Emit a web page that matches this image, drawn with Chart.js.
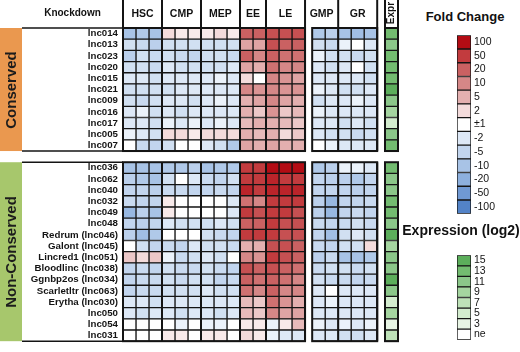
<!DOCTYPE html>
<html><head><meta charset="utf-8">
<script src="https://cdn.jsdelivr.net/npm/chart.js@4"></script>
<style>
html,body{margin:0;padding:0;background:#fff;}
#wrap{position:relative;width:520px;height:352px;overflow:hidden;font-family:"Liberation Sans",Arial,Helvetica,sans-serif;font-weight:bold;color:#111;}
canvas{position:absolute;}
.t{position:absolute;white-space:nowrap;font-weight:bold;line-height:1;}
</style></head><body>
<div id="wrap">
<canvas id="main" width="400" height="352" style="left:0;top:0"></canvas>
<canvas id="fcLeg" width="62" height="197" style="left:456px;top:26px"></canvas>
<canvas id="exLeg" width="62" height="103" style="left:456px;top:246px"></canvas>
<div class="t" style="left:405px;width:120px;text-align:center;top:10px;font-size:13px;">Fold Change</div>
<div class="t" style="left:400px;width:122px;text-align:center;top:223px;font-size:14px;">Expression (log2)</div>
</div>
<script>
// ---------- data ----------
const conservedRows = ['lnc014','lnc013','lnc023','lnc020','lnc015','lnc021','lnc009','lnc016','lnc017','lnc005','lnc007'];
const nonConservedRows = ['lnc036','lnc062','lnc040','lnc032','lnc049','lnc048','Redrum (lnc046)','Galont (lnc045)','Lincred1 (lnc051)','Bloodlinc (lnc038)','Ggnbp2os (lnc034)','Scarletltr (lnc063)','Erytha (lnc030)','lnc050','lnc054','lnc031'];
const groups = ['HSC','CMP','MEP','EE','LE','GMP','GR'];
const groupSizes = [3,3,3,2,3,2,3];
// fold change per row: HSC x3, CMP x3, MEP x3, EE x2, LE x3, GMP x2, GR x3
const conservedFC = [
 [-10,-8,-10, 2,1.5,1.5, 1.5,2,1.5, 20,20, 30,30,30, -8,-6, -10,-12,-10],
 [-3,-4,-6, -3,-3,-3, -3,-3,-3, 6,6, 30,20,20, -3,-4, -1.5,1,-2],
 [-6,-3,-4, -3,-4,-5, -3,-3,-4, 20,10, 20,15,15, -1.5,-3, -3,-4,-3],
 [-3,-3,-4, -2,-3,-3, -3,-3,-2, 6,5, 15,10,10, -2,-3, -2,1,-3],
 [-2,-2,-3, -2,-2,-2, -2,-1.5,-2, 2,1, 10,8,6, -2,-2, -2,-2,-3],
 [-3,-3,-3, -3,-2,-2, -2,-2,-2, 10,8, 10,8,8, -1.5,-2, -3,-3,-2],
 [-3,-4,-3, -2,-2,-3, -2,-1.5,-2, 5,6, 10,6,5, -3,-2, -2,-1.5,-2],
 [-2,-1.5,-3, -2,-3,-2, -2,-2,-2, 5,3, 8,3,4, -1.5,-2, -2,-2,-2],
 [-2,-2,-3, -1.5,-2,-1.5, -2,-1.5,-2, 4,5, 5,4,3, -2,-2, -3,-2,-3],
 [-1.5,-2,-3, 2,2,1.5, 2,2,2, 5,4, 5,2,3, -2,-3, -3,-4,-3],
 [1,-4,-5, -3,1,1, -2,-3,-8, 6,5, 6,5,5, 1,-1.5, -2,-2,-2]
];
const nonConservedFC = [
 [-10,-10,-10, -8,-8,-6, -10,-8,-8, 50,50, 100,100,100, -8,-6, -1.5,-1.5,-2],
 [-6,-8,-10, -3,1,-2, -4,-5,-3, 50,50, 70,50,50, -5,-6, -6,-8,-5],
 [-5,-5,-6, -4,-4,-5, -5,-4,-5, 70,50, 70,70,70, -5,-5, -5,-6,-5],
 [-4,-5,-5, 1.5,1,1, 1,1,-2, 15,10, 50,50,50, -6,-15, -5,-5,-4],
 [-15,-6,-10, 1.5,1,1, 1,1,-2, 50,30, 50,50,30, -6,-15, -5,-4,-5],
 [-5,-6,-5, -2,-3,-3, -3,-2,-3, 20,20, 50,30,30, -4,-5, -4,-3,-4],
 [-6,-12,-8, 1,1,1, -3,-4,-5, 50,50, 50,30,30, -5,-12, -3,-2,-3],
 [1,-3,-5, -4,-5,-2, -3,-3,-4, 5,5, 30,30,20, -4,-5, -3,-3,2],
 [3,2,3, -1.5,-4,-3, -2,-3,1, 10,8, 50,30,20, -6,-4, -10,-10,-8],
 [-5,-4,-5, -3,-4,-4, -3,-4,-5, 30,20, 30,20,15, -4,-3, -3,-4,-3],
 [-5,-4,-4, -3,-4,-3, -3,-5,-4, 20,15, 20,15,10, -3,-4, -4,-5,-4],
 [-5,-4,-4, -3,-3,-3, -2,-3,-3, 15,10, 20,10,10, -2,1, -2,-2,-2],
 [-2,-2,-3, -2,-2,-2, -2,-2,-2, 4,3, 15,8,5, -2,-1.5, -2,-2,-2],
 [-2,-3,-2, -2,-3,-2, -2,-3,-2, 4,3, 10,6,6, -2,-2, -2,-2,-2],
 [1,1,1, 1,-1.5,1, -1.5,-1.5,1, 1.5,1.5, -1.5,1.5,4, -1.5,-2, -1.5,-2,-1.5],
 [1,1,1, 1.5,1.5,1, 1.5,1.5,1, 2,1.5, -1.5,-2,-2, -2,-2, -3,-3,-2]
];
const conservedExpr = [13,11,13,13,13,15,11,9,5,11,13];
const nonConservedExpr = [13,11,11,13,13,11,15,9,11,11,15,11,5,9,3,7];
const fcTickLabels = ['100','50','20','10','5','2','\u00b11','-2','-5','-10','-20','-50','-100'];
const fcLevels = [100,50,20,10,5,2,1,-2,-5,-10,-20,-50,-100];
const exprTickLabels = ['15','13','11','9','7','5','3','ne'];
const exprLevels = [15,13,11,9,7,5,3,0];

// ---------- styles ----------
const FONT = '"Liberation Sans", Arial, Helvetica, sans-serif';
const INK = '#141414';
const fcColors = ['#B30C14','#C23B3E','#CA6162','#D58787','#E3AFAF','#F3DBDB','#FFFFFF','#DDE8F6','#C2D5EE','#A8C3E6','#8DB0DE','#7099D3','#5383C7'];
const exprColors = ['#5CAE5B','#73BC70','#8BC789','#A5D5A0','#BEE2B8','#D3ECCE','#E8F5E5','#FFFFFF'];
const conservedBand = '#EA984F';
const nonConservedBand = '#A7C76C';
const GAP1 = 0.55, GAP2 = 0.6;

function hex(c){return [parseInt(c.slice(1,3),16),parseInt(c.slice(3,5),16),parseInt(c.slice(5,7),16)];}
function mix(a,b,t){const A=hex(a),B=hex(b);return 'rgb('+A.map((v,i)=>Math.round(v+(B[i]-v)*t)).join(',')+')';}
function fcColor(v){
  if (v>-1.0001 && v<1.0001) return '#FFFFFF';
  const sign = v>0?1:-1, a=Math.abs(v);
  const lv=[1], cl=['#FFFFFF'];
  const side = fcLevels.map((l,i)=>[l,fcColors[i]]).filter(p=>p[0]*sign>1).sort((p,q)=>Math.abs(p[0])-Math.abs(q[0]));
  side.forEach(p=>{lv.push(Math.abs(p[0]));cl.push(p[1]);});
  for(let k=0;k<lv.length-1;k++){
    if(a<=lv[k+1]){const t=(Math.log(a)-Math.log(lv[k]))/(Math.log(lv[k+1])-Math.log(lv[k]));return mix(cl[k],cl[k+1],t);}
  }
  return cl[cl.length-1];
}
function exprColor(v){const i=exprLevels.indexOf(v);return i>=0?exprColors[i]:'#FFFFFF';}

// ---------- main heatmap ----------
const allRows = [...conservedRows, '', ...nonConservedRows];
const allFC = [...conservedFC, null, ...nonConservedFC];
const allExpr = [...conservedExpr, null, ...nonConservedExpr];
const nFC = groupSizes.reduce((a,b)=>a+b,0);
const block1 = groupSizes.slice(0,5).reduce((a,b)=>a+b,0);
function colStart(j){ if(j<block1) return j; if(j<nFC) return j+GAP1; return nFC+GAP1+GAP2; }
const xMax = colStart(nFC)+1;

const datasets = [];
for(let j=0;j<nFC;j++){
  datasets.push({
    data: allRows.map((r,i)=> allFC[i] ? [colStart(j), colStart(j)+1] : null),
    backgroundColor: allRows.map((r,i)=> allFC[i] ? fcColor(allFC[i][j]) : 'rgba(0,0,0,0)'),
  });
}
datasets.push({
  data: allRows.map((r,i)=> allExpr[i]!=null ? [colStart(nFC), colStart(nFC)+1] : null),
  backgroundColor: allRows.map((r,i)=> allExpr[i]!=null ? exprColor(allExpr[i]) : 'rgba(0,0,0,0)'),
});
datasets.forEach(d=>Object.assign(d,{borderColor:INK,borderWidth:1,borderSkipped:false,barPercentage:1,categoryPercentage:1,grouped:false}));

const bounds = [];
let acc=0; bounds.push(0);
groupSizes.forEach((s)=>{acc+=s; bounds.push(acc);});
function bx(c){ return c<=block1 ? c : c+GAP1; }
const blockRanges = [[0,block1],[block1+GAP1,nFC+GAP1],[colStart(nFC),xMax]];

function blockRows(y){
  const h=y.getPixelForValue(1)-y.getPixelForValue(0);
  return [[y.getPixelForValue(0)-h/2, y.getPixelForValue(conservedRows.length-1)+h/2],
          [y.getPixelForValue(conservedRows.length+1)-h/2, y.getPixelForValue(allRows.length-1)+h/2]];
}

const decor = {
  id:'decor',
  beforeDatasetsDraw(chart){
    const ctx=chart.ctx, rb=blockRows(chart.scales.y);
    ctx.save();
    ctx.fillStyle=conservedBand; ctx.fillRect(0,rb[0][0],22,rb[0][1]-rb[0][0]);
    ctx.fillStyle=nonConservedBand; ctx.fillRect(0,rb[1][0],22,rb[1][1]-rb[1][0]);
    ctx.restore();
  },
  afterDatasetsDraw(chart){
    const ctx=chart.ctx, x=chart.scales.x, ca=chart.chartArea;
    const rowsB=blockRows(chart.scales.y);
    ctx.save();
    ctx.strokeStyle=INK;
    ctx.lineWidth=1.6;
    rowsB.forEach(([t,b])=>{
      ctx.beginPath(); ctx.moveTo(22,t); ctx.lineTo(ca.left,t); ctx.stroke();
      ctx.beginPath(); ctx.moveTo(22,b); ctx.lineTo(ca.left,b); ctx.stroke();
    });
    ctx.lineWidth=2;
    const vx = bounds.map(bx).concat([blockRanges[2][0], blockRanges[2][1]]);
    vx.forEach(v=>{
      const px=x.getPixelForValue(v);
      ctx.beginPath(); ctx.moveTo(px,0); ctx.lineTo(px,ca.top); ctx.stroke();
      rowsB.forEach(([t,b])=>{ctx.beginPath(); ctx.moveTo(px,t); ctx.lineTo(px,b); ctx.stroke();});
    });
    blockRanges.forEach(([a,b])=>{
      const l=x.getPixelForValue(a), r=x.getPixelForValue(b);
      rowsB.forEach(([t,bt])=>{ctx.strokeRect(l,t,r-l,bt-t);});
    });
    ctx.restore();
  }
};

const main = new Chart(document.getElementById('main'),{
  type:'bar',
  data:{labels:allRows, datasets},
  options:{
    indexAxis:'y', responsive:false, animation:false, events:[],
    layout:{padding:{top:28,bottom:3,left:0,right:2}},
    plugins:{legend:{display:false},tooltip:{enabled:false}},
    scales:{
      x:{type:'linear',min:0,max:xMax,display:false},
      y:{grid:{display:false,drawTicks:false},border:{display:false},
         ticks:{padding:5,color:INK,autoSkip:false,font:{family:FONT,weight:'bold',size:9.7}},
         afterFit(s){s.width=123;}}
    }
  },
  plugins:[decor]
});

(function(){
  const wrap=document.getElementById('wrap');
  const x=main.scales.x, y=main.scales.y;
  function add(txt,css){const d=document.createElement('div');d.className='t';d.textContent=txt;Object.assign(d.style,css);wrap.appendChild(d);return d;}
  add('Knockdown',{left:'22px',width:'101px',textAlign:'center',top:'8px',fontSize:'10px'});
  groups.forEach((g,i)=>{
    const l=x.getPixelForValue(bx(bounds[i])), r=x.getPixelForValue(bx(bounds[i+1]));
    add(g,{left:l+'px',width:(r-l)+'px',textAlign:'center',top:'8px',fontSize:'10.5px'});
  });
  const el=x.getPixelForValue(blockRanges[2][0]), er=x.getPixelForValue(blockRanges[2][1]);
  add('Expr',{left:((el+er)/2-20)+'px',width:'40px',textAlign:'center',top:'8px',fontSize:'10px',transform:'rotate(-90deg)',transformOrigin:'50% 50%'});
  const rb=blockRows(y);
  [['Conserved',rb[0]],['Non-Conserved',rb[1]]].forEach(([t,[a,b]])=>{
    const cy=(a+b)/2;
    add(t,{left:(11-80)+'px',width:'160px',textAlign:'center',top:(cy-8)+'px',fontSize:'15px',lineHeight:'16px',color:'#1c1c1c',transform:'rotate(-90deg)',transformOrigin:'50% 50%'});
  });
})();

// ---------- legends ----------
function legendChart(id, labels, colors){
  return new Chart(document.getElementById(id),{
    type:'bar',
    data:{labels, datasets:[{data:labels.map(()=>[0,1]), backgroundColor:colors, borderColor:INK, borderWidth:1, borderSkipped:false, barPercentage:1, categoryPercentage:1}]},
    options:{
      indexAxis:'y', responsive:false, animation:false, events:[],
      layout:{padding:{top:1,bottom:1,left:1,right:0}},
      plugins:{legend:{display:false},tooltip:{enabled:false}},
      scales:{
        x:{type:'linear',min:0,max:1,display:false},
        y:{position:'right',grid:{display:false,drawTicks:false},border:{display:false},
           ticks:{padding:3,color:INK,autoSkip:false,font:{family:FONT,weight:'normal',size:10.5}},
           afterFit(s){s.width=47;}}
      }
    }
  });
}
legendChart('fcLeg', fcTickLabels, fcColors);
legendChart('exLeg', exprTickLabels, exprColors);
</script>
</body></html>
